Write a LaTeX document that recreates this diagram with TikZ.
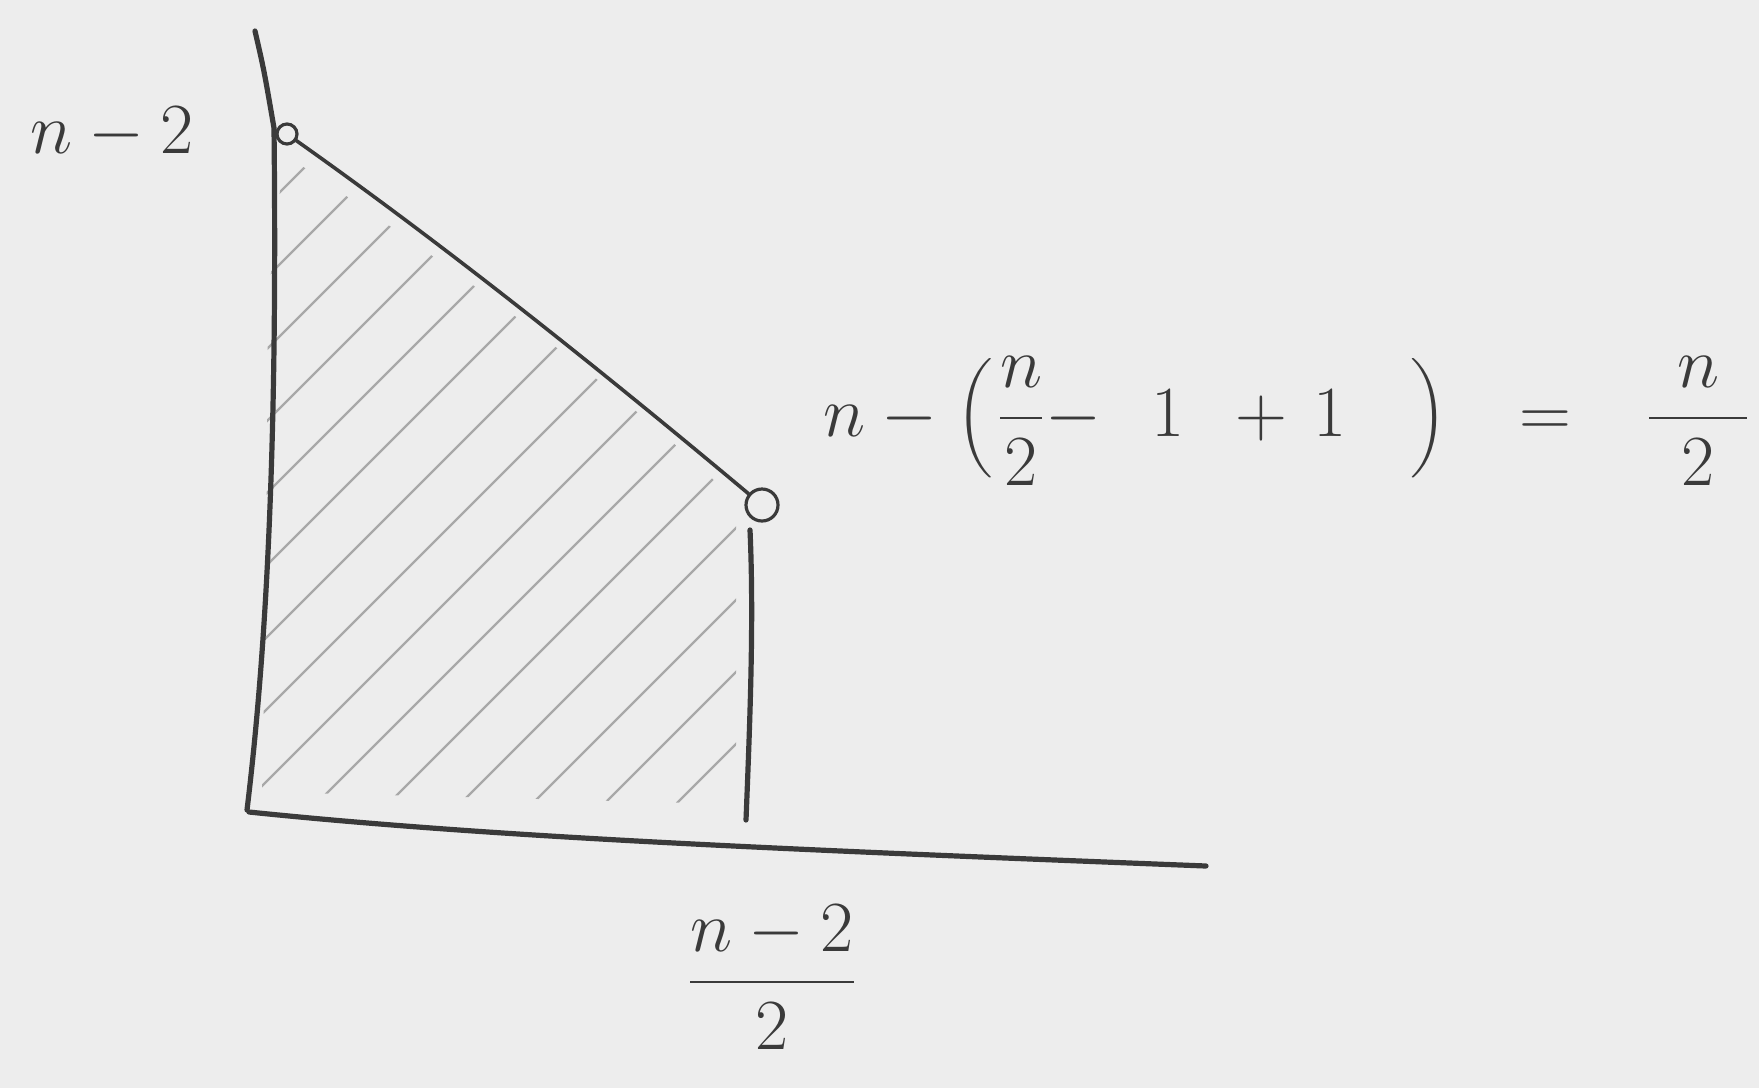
\RequirePackage{fix-cm}
\documentclass[tikz,border=0pt]{standalone}
\usepackage{amsmath}
\definecolor{paper}{HTML}{EDEDED}
\definecolor{ink}{HTML}{3A3A3A}
\definecolor{hatchc}{HTML}{A8A8A8}
\tikzset{
  axisline/.style={draw=ink, line width=2.6pt, line cap=round, line join=round},
  edgeline/.style={draw=ink, line width=1.8pt, line cap=round, line join=round},
  hatchline/.style={draw=hatchc, line width=1.1pt, line cap=round},
  opendot/.style={circle, draw=ink, line width=1.6pt, fill=paper, inner sep=0pt},
  lbl/.style={text=ink, inner sep=0pt, outer sep=0pt, font=\fontsize{36}{40}\selectfont}
}
\begin{document}
\begin{tikzpicture}[x=0.5pt,y=-0.5pt]
\fill[paper] (0,0) rectangle (1759,1088);
\useasboundingbox (0,0) rectangle (1759,1088);

% named points
\coordinate (ytop) at (255,31);
\coordinate (ybend) at (274,128);
\coordinate (orig) at (247,810);
\coordinate (xstart) at (249,812);
\coordinate (xend) at (1206,866);
\coordinate (vtop) at (750,530);
\coordinate (vbot) at (746,820);

% hatching
\begin{scope}
\clip (284,154) .. controls (440,258) and (630,394) .. (736,502)
      -- (736,804) -- (262,792) -- (266,600) -- (268,300) -- cycle;
\foreach \k in {400,472,...,1500}
  \draw[hatchline] ({\k-900},900) -- ({\k-100},100);
\end{scope}

% axes
\draw[axisline] (ytop) .. controls (264,70) .. (ybend)
  .. controls (277,400) and (270,620) .. (orig);
\draw[axisline] (xstart) .. controls (500,838) and (800,850) .. (xend);

% boundary of the region
\draw[axisline] (vtop) .. controls (754,620) and (750,720) .. (vbot);

\node[opendot, minimum size=10pt] (ptop) at (287,134) {};
\node[opendot, minimum size=16pt] (pmid) at (762,505) {};
\draw[edgeline] (ptop) .. controls (444,245) and (596,366) .. (pmid);

% labels
\node[lbl, anchor=base west] (ylab) at (30,153) {$n-2$};
\node[lbl, anchor=base] (xlab) at (772,1000) {$\displaystyle\frac{n-2}{2}$};
\node[lbl, anchor=base west] (eq) at (823,436)
 {$\displaystyle n\hspace{8pt}{-}\hspace{9.5pt}\Bigl(\hspace{2.5pt}{\frac{n}{2}}\hspace{0.5pt}{-}\hspace{25pt}1\hspace{25.5pt}{+}\hspace{13pt}1\hspace{32pt}\Bigr)\hspace{36pt}{=}\hspace{38pt}{\frac{\hspace{14pt}n\hspace{14pt}}{2}}$};
\end{tikzpicture}
\end{document}
